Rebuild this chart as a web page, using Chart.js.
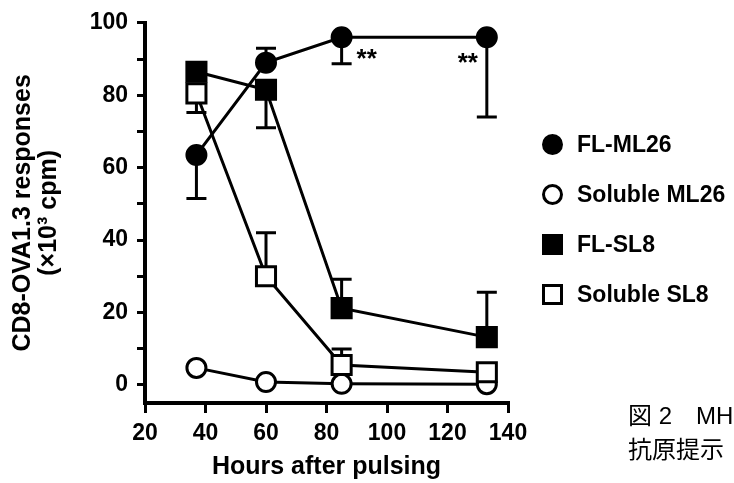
<!DOCTYPE html>
<html>
<head>
<meta charset="utf-8">
<script src="https://cdn.jsdelivr.net/npm/chart.js@4"></script>
<style>
  body { margin: 0; background: #fff; }
  #wrap { position: relative; width: 734px; height: 483px; overflow: hidden; font-family: "Liberation Sans", Arial, sans-serif; color: #000; }
  #chart { position: absolute; left: 0; top: 0; }
  .legend-row { position: absolute; left: 542px; height: 24px; display: flex; align-items: center; font-weight: bold; font-size: 23px; white-space: nowrap; }
  .mark { width: 21px; height: 21px; border: 3px solid #000; box-sizing: border-box; margin-right: 14px; flex: none; }
  .mark.filled { background: #000; }
  .mark.open { background: #fff; }
  .mark.circle { border-radius: 50%; }
  .caption { position: absolute; left: 628px; font-size: 24px; white-space: pre; font-family: "Liberation Sans", "Noto Sans CJK JP", sans-serif; }
</style>
</head>
<body>
<div id="wrap">
  <canvas id="chart" width="734" height="483"></canvas>
  <div id="legend"></div>
  <div class="caption" style="top:396px">図 2　MH</div>
  <div class="caption" style="top:430px">抗原提示</div>
</div>
<script>
const HOURS = [37, 60, 85, 133];

const SERIES_NAMES = ['FL-ML26', 'Soluble ML26', 'FL-SL8', 'Soluble SL8'];

// mean responses (x10^3 cpm)
const FL_ML26 = [63.5, 89, 96, 96];
const SOL_ML26 = [4.7, 0.8, 0.3, 0.2];
const FL_SL8 = [86.5, 81.5, 21.2, 13.2];
const SOL_SL8 = [80.5, 30, 5.5, 3.5];

// error bar length; the sign says which side is drawn (0 = none)
const FL_ML26_ERR = [-12, 4, -7.3, -22];
const SOL_ML26_ERR = [0, 0, 0, 0];
const FL_SL8_ERR = [0, -10.5, 8, 12.4];
const SOL_SL8_ERR = [-5.3, 12, 4.4, 0];

// hours marked with ** on FL-ML26
const SIG_HOURS = [85, 133];

const Y_TICKS = [0, 20, 40, 60, 80, 100];
const X_TICKS = [20, 40, 60, 80, 100, 120, 140];

const FONT = "'Liberation Sans', Arial, sans-serif";

const toPoints = (vals) => vals.map((v, i) => ({ x: HOURS[i], y: v }));

function makeDataset(i, vals, errs, style, filled, order) {
  return {
    label: SERIES_NAMES[i],
    data: toPoints(vals),
    errors: errs,
    borderColor: '#000',
    borderWidth: 3,
    pointStyle: style,
    pointRadius: style === 'rect' ? 13.5 : 9.5,
    pointBorderWidth: 3,
    pointBorderColor: '#000',
    pointBackgroundColor: filled ? '#000' : '#fff',
    tension: 0,
    order,
  };
}

const datasets = [
  makeDataset(0, FL_ML26, FL_ML26_ERR, 'circle', true, 1),
  makeDataset(1, SOL_ML26, SOL_ML26_ERR, 'circle', false, 3),
  makeDataset(2, FL_SL8, FL_SL8_ERR, 'rect', true, 0),
  makeDataset(3, SOL_SL8, SOL_SL8_ERR, 'rect', false, 2),
];

const errorBars = {
  id: 'errorBars',
  beforeDatasetsDraw(chart) {
    const { ctx, scales: { x, y } } = chart;
    ctx.save();
    ctx.strokeStyle = '#000';
    ctx.lineWidth = 3;
    chart.data.datasets.forEach((ds) => {
      ds.errors.forEach((err, i) => {
        if (!err) return;
        const pt = ds.data[i];
        const px = x.getPixelForValue(pt.x);
        const py = y.getPixelForValue(pt.y);
        const pe = y.getPixelForValue(pt.y + err);
        ctx.beginPath();
        ctx.moveTo(px, py);
        ctx.lineTo(px, pe);
        ctx.moveTo(px - 10, pe);
        ctx.lineTo(px + 10, pe);
        ctx.stroke();
      });
    });
    ctx.restore();
  },
};

const stars = {
  id: 'stars',
  afterDatasetsDraw(chart) {
    const { ctx, scales: { x, y } } = chart;
    ctx.save();
    ctx.fillStyle = '#000';
    ctx.font = `bold 26px ${FONT}`;
    ctx.textAlign = 'center';
    ctx.textBaseline = 'middle';
    SIG_HOURS.forEach((h, k) => {
      const i = HOURS.indexOf(h);
      const px = x.getPixelForValue(h);
      const py = y.getPixelForValue(FL_ML26[i]);
      // first pair sits right of the point, last one left of it
      const dx = k === 0 ? 25 : -19;
      const dy = k === 0 ? 23 : 27;
      ctx.fillText('**', px + dx, py + dy);
    });
    ctx.restore();
  },
};

const tickFont = { family: FONT, size: 23, weight: 'bold' };

new Chart(document.getElementById('chart'), {
  type: 'line',
  data: { datasets },
  plugins: [errorBars, stars],
  options: {
    responsive: false,
    animation: false,
    devicePixelRatio: 1,
    layout: { padding: { left: 0, top: 22, right: 226, bottom: 0 } },
    plugins: { legend: { display: false }, tooltip: { enabled: false } },
    scales: {
      x: {
        type: 'linear',
        min: 20,
        max: 140,
        afterBuildTicks: (s) => { s.ticks = X_TICKS.map((v) => ({ value: v })); },
        afterFit: (s) => { s.height = 80; },
        border: { color: '#000', width: 4 },
        grid: { drawOnChartArea: false, color: '#000', lineWidth: 3, tickLength: 10 },
        ticks: { color: '#000', font: tickFont, padding: 7, maxRotation: 0 },
        title: {
          display: true,
          text: 'Hours after pulsing',
          color: '#000',
          font: { family: FONT, size: 25, weight: 'bold', lineHeight: 1.05 },
          padding: { top: 0, bottom: 3 },
        },
      },
      y: {
        min: -5,
        max: 100,
        afterBuildTicks: (s) => {
          s.ticks = [];
          for (let v = 0; v <= 100; v += 10) s.ticks.push({ value: v });
        },
        afterFit: (s) => { s.width = 145; },
        border: { color: '#000', width: 4 },
        grid: { drawOnChartArea: false, color: '#000', lineWidth: 3, tickLength: 8 },
        ticks: {
          color: '#000',
          font: tickFont,
          padding: 9,
          callback: (v) => (Y_TICKS.includes(v) ? String(v) : ''),
        },
        title: {
          display: true,
          text: ['CD8-OVA1.3 responses', '(×10³ cpm)'],
          color: '#000',
          font: { family: FONT, size: 25, weight: 'bold', lineHeight: 1.05 },
          padding: { top: 10, bottom: 0 },
        },
      },
    },
  },
});

// legend, built from the same series
const LEGEND_Y = [132, 182, 232, 282];
const LEGEND_MARKS = ['filled circle', 'open circle', 'filled', 'open'];
document.getElementById('legend').innerHTML = SERIES_NAMES.map((name, i) => `
  <div class="legend-row" style="top:${LEGEND_Y[i]}px">
    <span class="mark ${LEGEND_MARKS[i]}"></span><span>${name}</span>
  </div>`).join('');
</script>
</body>
</html>
